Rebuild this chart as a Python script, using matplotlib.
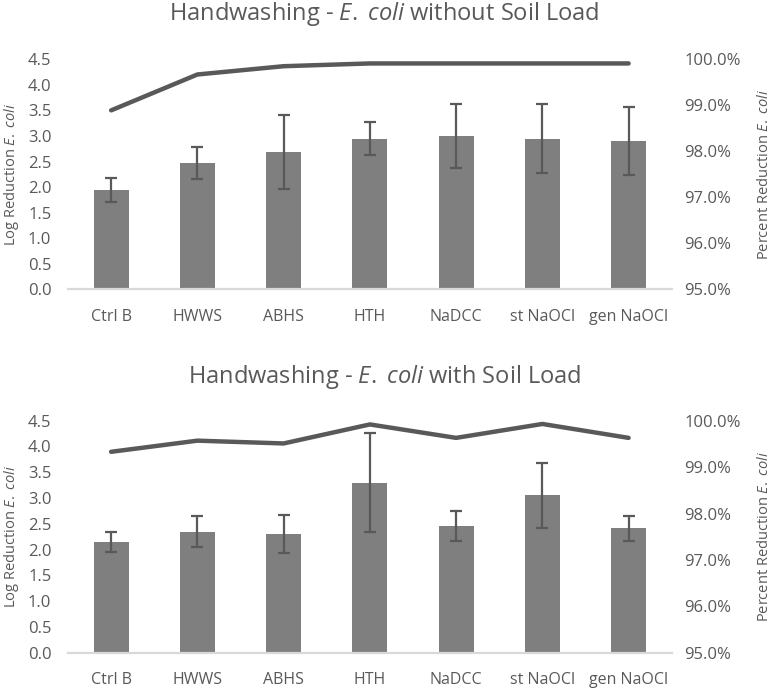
import matplotlib.pyplot as plt
import numpy as np

plt.rcParams['font.family'] = ['Open Sans', 'DejaVu Sans']
plt.rcParams['mathtext.fontset'] = 'custom'
plt.rcParams['mathtext.rm'] = 'Open Sans'
plt.rcParams['mathtext.it'] = 'Open Sans:italic'

categories = ["Ctrl B", "HWWS", "ABHS", "HTH", "NaDCC", "st NaOCl", "gen NaOCl"]

# without soil load
log_red_1 = [1.94, 2.47, 2.69, 2.95, 3.00, 2.95, 2.90]
err_1 = [0.24, 0.32, 0.73, 0.33, 0.62, 0.67, 0.66]
pct_red_1 = [98.89, 99.67, 99.85, 99.91, 99.91, 99.91, 99.91]

# with soil load
log_red_2 = [2.15, 2.35, 2.30, 3.30, 2.46, 3.05, 2.41]
err_2 = [0.19, 0.30, 0.37, 0.96, 0.29, 0.63, 0.25]
pct_red_2 = [99.33, 99.57, 99.51, 99.92, 99.63, 99.93, 99.63]

titles = ["without Soil Load", "with Soil Load"]

txt = "#595959"
ecoli = "$\\mathit{E.}$ $\\mathit{coli}$"
fig = plt.figure(figsize=(7.73, 6.88), dpi=100)

panels = [
    ([0.088, 0.5795, 0.781, 0.3343], log_red_1, err_1, pct_red_1, titles[0], 0.979),
    ([0.088, 0.0513, 0.781, 0.3372], log_red_2, err_2, pct_red_2, titles[1], 0.452),
]

for rect, vals, errs, pct, sub, ty in panels:
    ax = fig.add_axes(rect)
    x = np.arange(len(categories))
    ax.bar(x, vals, width=0.405, color="#7f7f7f", zorder=2)
    ax.errorbar(x, vals, yerr=errs, fmt="none", ecolor="#595959",
                elinewidth=1.6, capsize=4, capthick=1.6, zorder=3)
    ax.set_xlim(-0.5, len(categories) - 0.5)
    ax.set_ylim(0, 4.5)
    ax.set_yticks(np.arange(0, 4.51, 0.5))
    ax.set_yticklabels([f"{v:.1f}" for v in np.arange(0, 4.51, 0.5)])
    ax.set_xticks(x)
    ax.set_xticklabels(categories)
    ax.tick_params(axis="both", length=0, colors=txt)
    ax.tick_params(axis="x", pad=14, labelsize=11.5)
    ax.tick_params(axis="y", pad=12, labelsize=12)
    for s in ["top", "right", "left"]:
        ax.spines[s].set_visible(False)
    ax.spines["bottom"].set_color("#d9d9d9")
    ax.spines["bottom"].set_linewidth(1.6)
    ax.set_ylabel("Log Reduction " + ecoli, color=txt, fontsize=10.5, labelpad=5)

    ax2 = ax.twinx()
    ax2.plot(x, pct, color="#595959", linewidth=3.2, solid_capstyle="round", clip_on=False, zorder=4)
    ax2.set_ylim(95, 100)
    ax2.set_yticks(np.arange(95, 100.01, 1))
    ax2.set_yticklabels([f"{v:.1f}%" for v in np.arange(95, 100.01, 1)])
    ax2.tick_params(axis="y", length=0, colors=txt, labelsize=12, pad=9)
    for s in ["top", "right", "left", "bottom"]:
        ax2.spines[s].set_visible(False)
    ax2.set_ylabel("Percent Reduction " + ecoli, color=txt, fontsize=10.5, labelpad=12)

    fig.text(0.497, ty, "Handwashing - " + ecoli + " " + sub, ha="center", va="center",
             color=txt, fontsize=17)

fig.savefig("out.png", dpi=100)
